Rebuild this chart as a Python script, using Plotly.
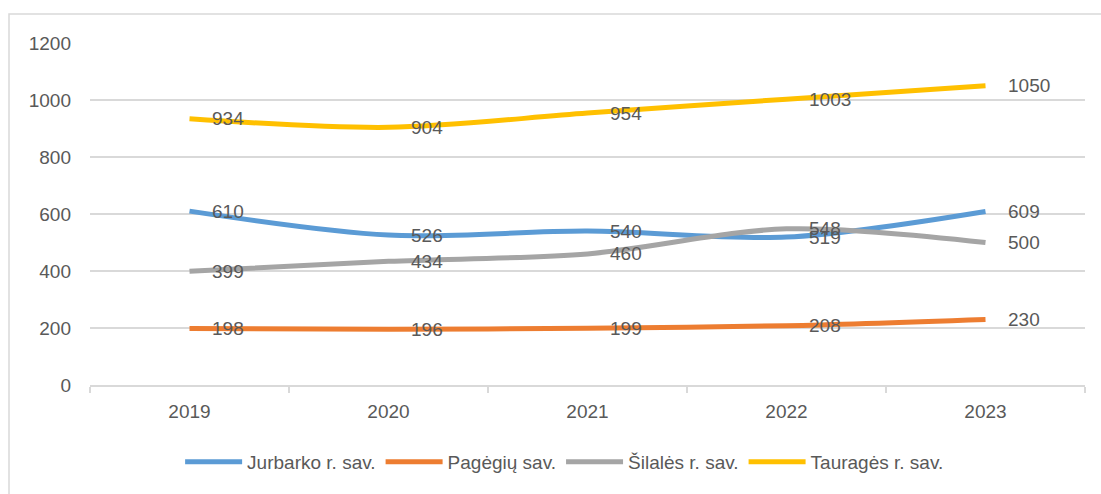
import plotly.graph_objects as go

years = ["2019", "2020", "2021", "2022", "2023"]
series_names = ["Jurbarko r. sav.", "Pagėgių sav.", "Šilalės r. sav.", "Tauragės r. sav."]
jurbarko = [610, 526, 540, 519, 609]
pagegiu = [198, 196, 199, 208, 230]
silales = [399, 434, 460, 548, 500]
taurages = [934, 904, 954, 1003, 1050]
colors = ["#5B9BD5", "#ED7D31", "#A5A5A5", "#FFC000"]
y_ticks = [0, 200, 400, 600, 800, 1000, 1200]

all_values = [jurbarko, pagegiu, silales, taurages]
FONT = "Liberation Sans"
TXT = "#595959"
FS = 19

fig = go.Figure()
for name, vals, col in zip(series_names, all_values, colors):
    fig.add_trace(go.Scatter(
        x=years, y=vals, name=name, mode="lines",
        line=dict(color=col, width=5, shape="spline", smoothing=0.9),
        hoverinfo="skip",
    ))

annotations = []
for vals in all_values:
    for i, v in enumerate(vals):
        annotations.append(dict(
            x=i, y=v, xref="x", yref="y", text=str(v), showarrow=False,
            xanchor="left", yanchor="middle",
            xshift=20, font=dict(family=FONT, size=FS, color=TXT),
        ))

fig.update_layout(
    width=1101, height=494,
    margin=dict(l=90, r=16, t=43, b=109),
    paper_bgcolor="white", plot_bgcolor="white",
    font=dict(family=FONT, size=FS, color=TXT),
    showlegend=True,
    legend=dict(
        orientation="h", x=0.477, xanchor="center", y=-0.225, yanchor="middle",
        font=dict(family=FONT, size=FS, color=TXT),
        tracegroupgap=0, itemwidth=57,
    ),
    annotations=annotations,
    shapes=[dict(
        type="rect", xref="paper", yref="paper",
        x0=(9 - 90) / 995, x1=(1102 - 90) / 995,
        y0=(385 - 497) / 342, y1=(385 - 14) / 342,
        line=dict(color="#D9D9D9", width=1.5), fillcolor="rgba(0,0,0,0)", layer="below",
    )],
)

fig.update_xaxes(
    type="category", range=[-0.5, 4.5],
    showgrid=False, showline=True, linecolor="#D9D9D9", linewidth=1.5,
    ticks="outside", tickson="boundaries", ticklen=6, tickcolor="#D9D9D9", tickwidth=1.5,
    ticklabelstandoff=8,
    tickfont=dict(family=FONT, size=FS, color=TXT),
)
fig.update_yaxes(
    range=[0, 1200], tickvals=y_ticks, ticktext=[str(t) for t in y_ticks],
    showgrid=True, gridcolor="#D9D9D9", gridwidth=1.5,
    zeroline=False, showline=False, ticks="",
    ticklabelstandoff=18,
    tickfont=dict(family=FONT, size=FS, color=TXT),
)

fig.write_html("out.html", config={"displayModeBar": False},
               post_script="document.body.style.margin='0';")
